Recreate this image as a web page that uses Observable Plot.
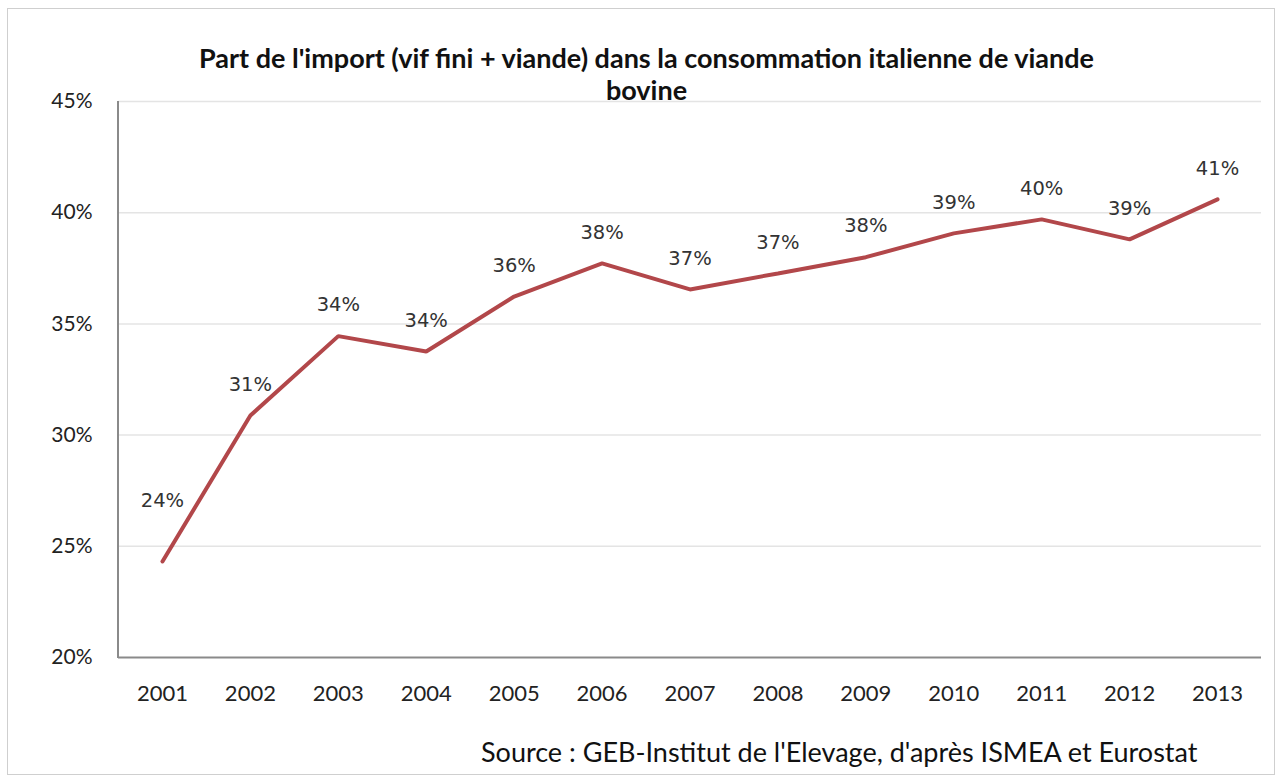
<!DOCTYPE html>
<html>
<head>
<meta charset="utf-8">
<script src="https://cdn.jsdelivr.net/npm/d3@7"></script>
<script src="https://cdn.jsdelivr.net/npm/@observablehq/plot@0.6"></script>
<style>
  html, body { margin: 0; padding: 0; background: #fff; }
  #wrap { position: relative; width: 1283px; height: 778px; overflow: hidden; }
  #frame { position: absolute; left: 7px; top: 8px; width: 1268px; height: 767px; border: 1px solid #cfcfcf; box-sizing: border-box; }
  #title { position: absolute; left: 0; width: 1293px; top: 42px; text-align: center; font-family: Lato, sans-serif; font-weight: bold; font-size: 27px; line-height: 32px; color: #111; white-space: nowrap; }
  #source { position: absolute; left: 481px; top: 738px; font-family: Lato, sans-serif; font-size: 27px; line-height: 27px; color: #111; white-space: nowrap; }
  #chart { position: absolute; left: 0; top: 0; }
</style>
</head>
<body>
<div id="wrap">
  <div id="frame"></div>
  <div id="chart"></div>
  <div id="title">Part de l'import (vif fini + viande) dans la consommation italienne de viande<br>bovine</div>
  <div id="source">Source : GEB-Institut de l'Elevage, d'après ISMEA et Eurostat</div>
</div>
<script>
const years = ["2001","2002","2003","2004","2005","2006","2007","2008","2009","2010","2011","2012","2013"];
const shares = [0.2432, 0.3088, 0.3445, 0.3376, 0.3623, 0.3772, 0.3655, 0.3727, 0.3800, 0.3907, 0.3970, 0.3880, 0.4060];
const yTicks = [0.20, 0.25, 0.30, 0.35, 0.40, 0.45];

const data = years.map((y, i) => ({year: y, share: shares[i]}));
const pct = d3.format(".0%");
const labelFont = "DejaVu Sans, sans-serif";

const chart = Plot.plot({
  width: 1283,
  height: 778,
  marginLeft: 118,
  marginRight: 22,
  marginTop: 101,
  marginBottom: 121,
  style: {background: "transparent", overflow: "visible"},
  x: {type: "point", domain: years, padding: 0.5, round: false, label: null},
  y: {domain: [0.20, 0.45], ticks: yTicks, label: null, tickFormat: pct},
  marks: [
    Plot.gridY(yTicks.slice(1), {stroke: "#e4e4e4", strokeOpacity: 1, strokeWidth: 1.5}),
    Plot.axisY({ticks: yTicks, tickFormat: pct, tickSize: 0, tickPadding: 26, fontSize: 21, fontFamily: "Lato, sans-serif", fill: "#222", label: null}),
    Plot.axisX({tickSize: 0, tickPadding: 28, fontSize: 22, fontFamily: "Lato, sans-serif", fill: "#222", label: null}),
    Plot.ruleY([0.20], {stroke: "#8a8a8a", strokeWidth: 2}),
    Plot.line(data, {x: "year", y: "share", stroke: "#b2474a", strokeWidth: 4, strokeLinejoin: "miter"}),
    Plot.text(data.slice(1), {x: "year", y: "share", text: d => pct(d.share), dy: -31, fontSize: 19.5, fontFamily: labelFont, fill: "#333"}),
    Plot.text(data.slice(0, 1), {x: "year", y: "share", text: d => pct(d.share), dy: -61, fontSize: 19.5, fontFamily: labelFont, fill: "#333"})
  ]
});
document.getElementById("chart").appendChild(chart);

// vertical axis line at the left edge of the x range, spanning the y domain
const xs = chart.scale("x"), ys = chart.scale("y");
const x0 = Math.min(...xs.range);
d3.select(chart).append("line")
  .attr("x1", x0).attr("x2", x0)
  .attr("y1", ys.apply(0.45)).attr("y2", ys.apply(0.20) + 1)
  .attr("stroke", "#8a8a8a").attr("stroke-width", 2);
</script>
</body>
</html>
